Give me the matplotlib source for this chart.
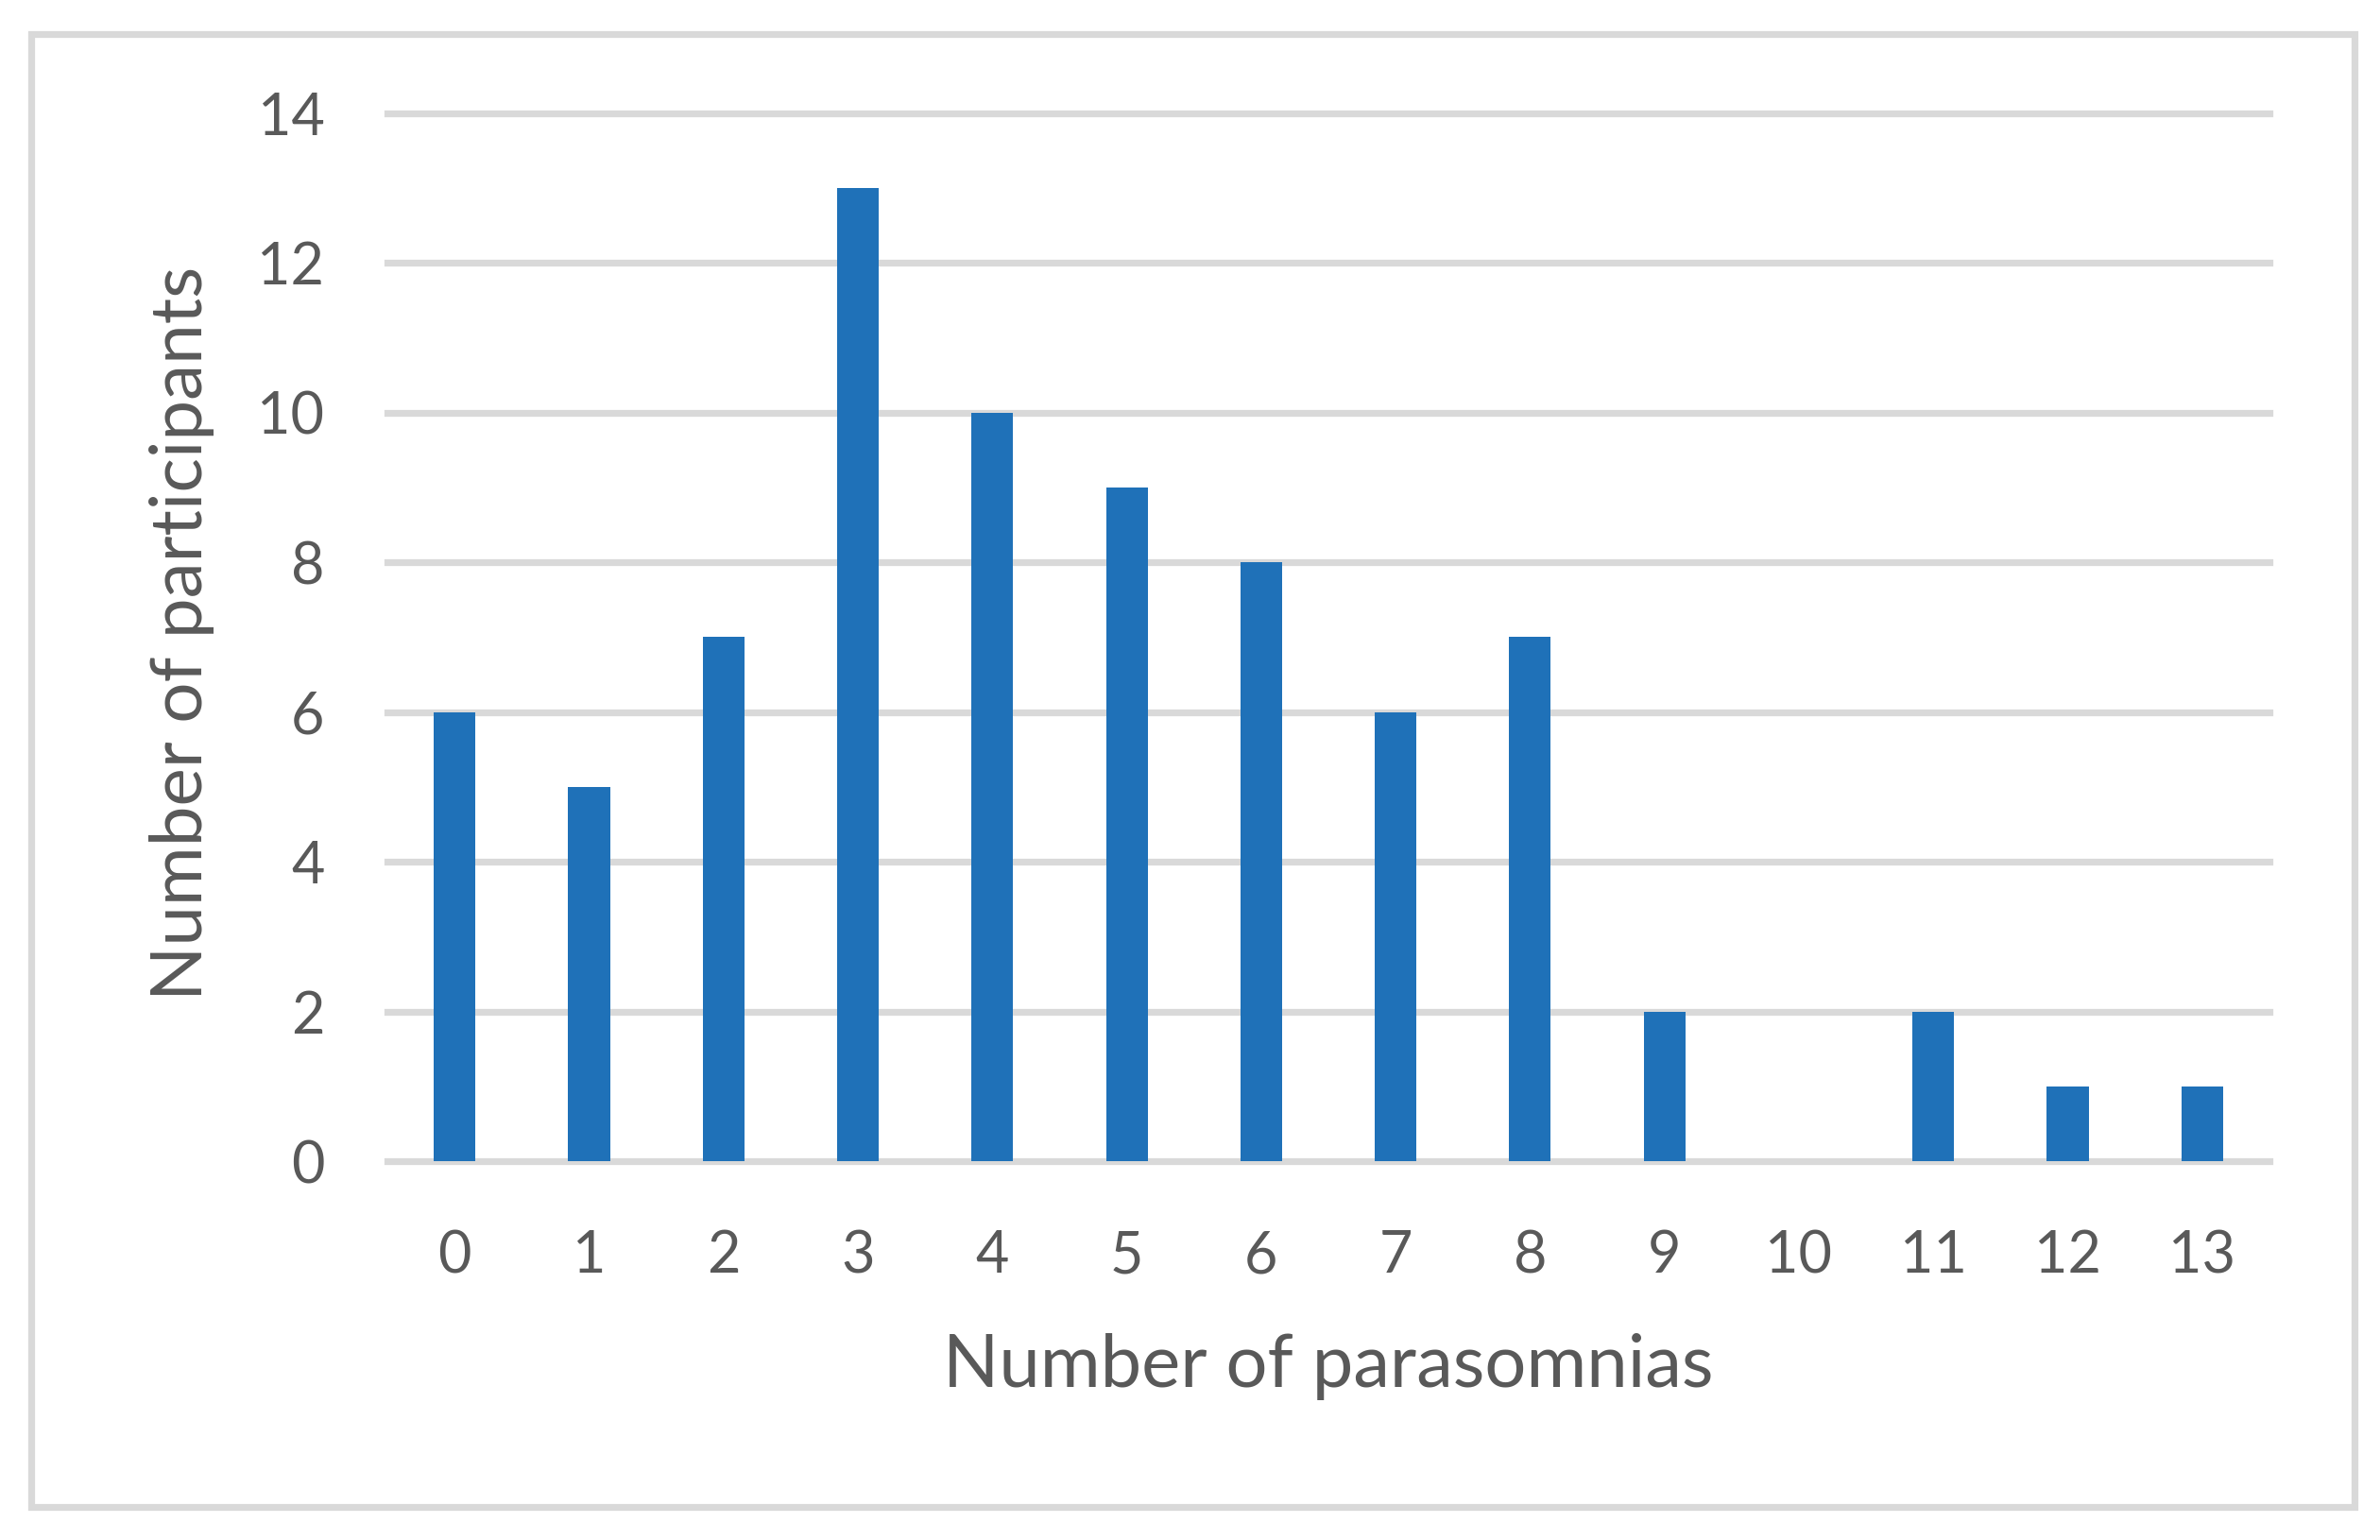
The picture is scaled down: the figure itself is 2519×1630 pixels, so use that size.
import matplotlib
matplotlib.use("Agg")
import matplotlib.pyplot as plt
from matplotlib.patches import Rectangle

# data
categories = ["0", "1", "2", "3", "4", "5", "6", "7", "8", "9", "10", "11", "12", "13"]
participants = [6, 5, 7, 13, 10, 9, 8, 6, 7, 2, 0, 2, 1, 1]
y_ticks = [0, 2, 4, 6, 8, 10, 12, 14]

BAR_COLOR = "#1f71b8"
GRID_COLOR = "#d9d9d9"
TEXT_COLOR = "#595959"

plt.rcParams["font.family"] = ["Lato", "DejaVu Sans"]

fig = plt.figure(figsize=(25.19, 16.30), dpi=100)
fig.patch.set_facecolor("white")

# outer chart frame
fig.patches.append(
    Rectangle((32.5 / 2519, 1 - 1595 / 1630), (2492 - 32.5) / 2519, (1595 - 35.5) / 1630,
              transform=fig.transFigure, fill=False, edgecolor=GRID_COLOR, linewidth=5.2)
)

ax = fig.add_axes([0.1628, 0.246, 0.7907, 0.6804])
x = list(range(len(categories)))
ax.bar(x, participants, width=0.31, color=BAR_COLOR, zorder=3)

ax.set_xlim(-0.5, len(categories) - 0.5)
ax.set_ylim(0, 14)
ax.set_yticks(y_ticks)
ax.set_xticks(x)
ax.set_xticklabels(categories)

ax.grid(axis="y", color=GRID_COLOR, linewidth=5.2, zorder=0)
ax.set_axisbelow(True)
for spine in ax.spines.values():
    spine.set_visible(False)
for line in ax.get_ygridlines():
    line.set_clip_on(False)

ax.tick_params(axis="both", length=0, labelsize=44, labelcolor=TEXT_COLOR)
ax.tick_params(axis="x", pad=52)
ax.tick_params(axis="y", pad=48)

ax.set_xlabel("Number of parasomnias", fontsize=56, color=TEXT_COLOR)
ax.set_ylabel("Number of participants", fontsize=55, color=TEXT_COLOR)
ax.xaxis.set_label_coords(0.5, -0.196)
ax.xaxis.label.set_va("center")
ax.yaxis.set_label_coords(-0.109, 0.504)
ax.yaxis.label.set_va("center")

fig.savefig("out.png", dpi=100, facecolor="white")
